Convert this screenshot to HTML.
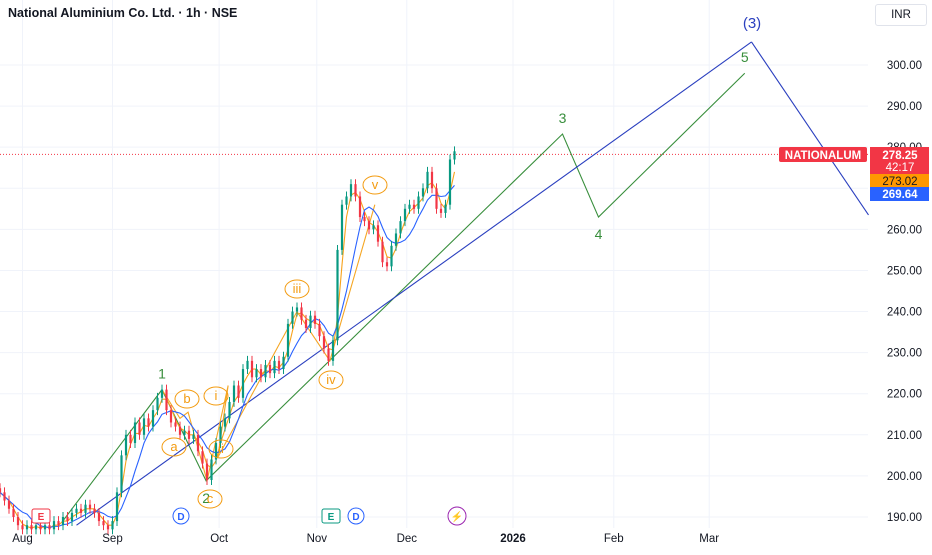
<!DOCTYPE html>
<html><head><meta charset="utf-8">
<style>
html,body{margin:0;padding:0;background:#fff;}
body{width:932px;height:550px;overflow:hidden;font-family:"Liberation Sans",sans-serif;}
svg text{font-family:"Liberation Sans",sans-serif;}
</style></head>
<body>
<svg id="chart" width="932" height="550" viewBox="0 0 932 550" xmlns="http://www.w3.org/2000/svg">
<g id="grid"></g>
<g id="waves"></g>
<g id="mas"></g>
<g id="candles"></g>
<g id="labels"></g>
<g id="axes"></g>
</svg>
<script>
const closes=[196,194,192,190,188,187,188,187,188,187,188,187,189,188,190,189,191,192,191,193,192,191,189,188,187,189,196,205,210,208,213,210,214,212,216,219,221,216,213,212,210,211,209,210,206,203,199,204,208,212,214,218,222,219,226,228,224,226,224,227,225,228,226,229,237,240,241,238,236,239,237,234,231,228,233,255,266,268,271,268,263,262,260,261,257,252,251,256,259,262,265,266,265,268,270,274,270,265,264,266,277,279];
const priceTicks=[300,290,280,270,260,250,240,230,220,210,200,190];
const monthLabels=["Aug","Sep","Oct","Nov","Dec","2026","Feb","Mar"];
const monthBars=[5,25,48.7,70.4,90.4,114,136.4,157.6];
const greenWaveBars=[13.8,36,45.8,125,133,165.5];
const greenWavePrices=[188.8,221,198.8,283.2,263,298];
const greenWaveLabels=["","1","2","3","4","5"];
const blueWaveBars=[17,167];
const blueWavePrices=[188,305.6];
const blueDownBars=[167,193];
const blueDownPrices=[305.6,263.5];
const orangeBars=[36,40,41.8,46,50.7,48.4,66,73.3,83.3];
const orangePrices=[221,214,215.5,198.8,222,204.5,240,228,266];
const lastPrice=278.25;

const NS="http://www.w3.org/2000/svg";
const X=i=>i*4.5;
const Y=p=>65+(300-p)*4.109;
function el(tag,attrs,parent,txt){const e=document.createElementNS(NS,tag);for(const k in attrs)e.setAttribute(k,attrs[k]);if(txt!==undefined)e.textContent=txt;parent.appendChild(e);return e;}
const grid=document.getElementById('grid'),axes=document.getElementById('axes');
priceTicks.forEach(p=>{
  el('line',{x1:0,x2:868,y1:Y(p),y2:Y(p),stroke:'#f0f3fa','stroke-width':1},grid);
  const t=el('text',{x:922,y:Y(p)+4,'font-size':11.5,fill:'#131722','text-anchor':'end'},axes,p.toFixed(2));
  
  
});
monthLabels.forEach((m,k)=>{
  el('line',{x1:X(monthBars[k]),x2:X(monthBars[k]),y1:0,y2:528,stroke:'#f0f3fa','stroke-width':1},grid);
  const t=el('text',{x:X(monthBars[k]),y:542,'font-size':11.5,fill:'#131722','text-anchor':'middle','font-weight':m==="2026"?'bold':'normal'},axes,m);
  
  
});
const pl=el('line',{x1:0,x2:868,y1:Y(lastPrice),y2:Y(lastPrice),stroke:'#f23645','stroke-width':1,'stroke-dasharray':'1 2'},grid);



const waves=document.getElementById('waves');
function poly(bars,prices,color,name){
  const p=el('polyline',{points:bars.map((b,i)=>X(b)+','+Y(prices[i])).join(' '),fill:'none',stroke:color,'stroke-width':1.1},waves);
  
  
}
poly(greenWaveBars,greenWavePrices,'#388e3c','green-wave-path');
poly(blueWaveBars,blueWavePrices,'#2a3fbf','blue-wave-up');
poly(blueDownBars,blueDownPrices,'#2a3fbf','blue-wave-down');
poly(orangeBars,orangePrices,'#f5a623','orange-subwave-path');

function ma(n){return closes.map((c,i)=>{const s=closes.slice(Math.max(0,i-n+1),i+1);return s.reduce((a,b)=>a+b,0)/s.length;});}
const mas=document.getElementById('mas');
[[ma(3),'#f7a21b','ma-fast'],[ma(7),'#2962ff','ma-slow']].forEach(([arr,col,nm])=>{
  const p=el('polyline',{points:arr.map((v,i)=>X(i)+','+Y(v)).join(' '),fill:'none',stroke:col,'stroke-width':1.1},mas);
  
  
});
const cg=document.getElementById('candles');
closes.forEach((c,i)=>{
  const o=i?closes[i-1]:c+1;
  const up=c>=o,col=up?'#089981':'#f23645';
  const hi=Math.max(o,c)+1.2,lo=Math.min(o,c)-1.2;
  const g=el('g',{},cg);
  
  
  el('line',{x1:X(i),x2:X(i),y1:Y(hi),y2:Y(lo),stroke:col,'stroke-width':1},g);
  const top=Y(Math.max(o,c)),h=Math.max(1,Y(Math.min(o,c))-top);
  el('rect',{x:X(i)-1.1,y:top,width:2.2,height:h,fill:col},g);
});
const lg=document.getElementById('labels');
greenWaveLabels.forEach((l,i)=>{
  if(!l)return;
  const below=(l==="2"||l==="4");
  const t=el('text',{x:X(greenWaveBars[i]),y:Y(greenWavePrices[i])+(below?22:-11),'font-size':14,fill:'#388e3c','text-anchor':'middle'},lg,l);
  
  
});
</script>
<div style="position:absolute;left:8px;top:6px;font-size:12.5px;font-weight:bold;color:#131722;">National Aluminium Co. Ltd. · 1h · NSE</div>
<div style="position:absolute;left:875px;top:4px;width:50px;height:20px;border:1px solid #e0e3eb;border-radius:3px;font-size:11.5px;color:#131722;text-align:center;line-height:20px;">INR</div>
<svg style="position:absolute;left:0;top:0" width="932" height="550">
<g font-size="13" fill="#f39c12" text-anchor="middle" font-family="Liberation Sans">
<g><ellipse cx="187" cy="399" rx="12" ry="9" fill="#fff" stroke="#f39c12"/><text x="187" y="403">b</text></g>
<g><ellipse cx="174" cy="447" rx="12" ry="9" fill="none" stroke="#f39c12"/><text x="174" y="451">a</text></g>
<g><ellipse cx="216" cy="396" rx="12" ry="9" fill="none" stroke="#f39c12"/><text x="216" y="400">i</text></g>
<g><ellipse cx="221" cy="449" rx="12" ry="9" fill="none" stroke="#f39c12"/><text x="221" y="453">ii</text></g>
<g><ellipse cx="297" cy="289" rx="12" ry="9" fill="#fff" stroke="#f39c12"/><text x="297" y="293">iii</text></g>
<g><ellipse cx="331" cy="380" rx="12" ry="9" fill="#fff" stroke="#f39c12"/><text x="331" y="384">iv</text></g>
<g><ellipse cx="375" cy="185" rx="12" ry="9" fill="#fff" stroke="#f39c12"/><text x="375" y="189">v</text></g>
<g><ellipse cx="210" cy="499" rx="12" ry="9" fill="none" stroke="#f39c12"/><text x="210" y="503">c</text></g>
</g>
<text x="752" y="28" font-size="15" fill="#2a3fbf" text-anchor="middle" font-family="Liberation Sans">(3)</text>
<g font-size="10" text-anchor="middle" font-family="Liberation Sans" font-weight="bold">
<g><rect x="32" y="509" width="18" height="14" rx="2" fill="#fff" stroke="#f23645"/><text x="41" y="520" fill="#f23645">E</text></g>
<g><circle cx="181" cy="516" r="8" fill="#fff" stroke="#2962ff"/><text x="181" y="520" fill="#2962ff">D</text></g>
<g><rect x="322" y="509" width="18" height="14" rx="2" fill="#fff" stroke="#089981"/><text x="331" y="520" fill="#089981">E</text></g>
<g><circle cx="356" cy="516" r="8" fill="#fff" stroke="#2962ff"/><text x="356" y="520" fill="#2962ff">D</text></g>
<g><circle cx="457" cy="516" r="9" fill="#fff" stroke="#9c27b0"/><text x="457" y="520" fill="#9c27b0">⚡</text></g>
</g>
<g font-family="Liberation Sans" font-size="11.5" font-weight="bold">
<g><rect x="779" y="147" width="88" height="15" fill="#f23645" rx="2"/><text x="823" y="159" fill="#fff" text-anchor="middle">NATIONALUM</text></g>
<g><rect x="870" y="147" width="59" height="27" fill="#f23645"/><text x="900" y="159" fill="#fff" text-anchor="middle">278.25</text><text x="900" y="171" fill="#fff" text-anchor="middle" font-weight="normal">42:17</text></g>
<g><rect x="870" y="174" width="59" height="13" fill="#ff9800"/><text x="900" y="185" fill="#131722" text-anchor="middle" font-weight="normal">273.02</text></g>
<g><rect x="870" y="187" width="59" height="14" fill="#2962ff"/><text x="900" y="198" fill="#fff" text-anchor="middle">269.64</text></g>
</g>
</svg>
</body></html>
